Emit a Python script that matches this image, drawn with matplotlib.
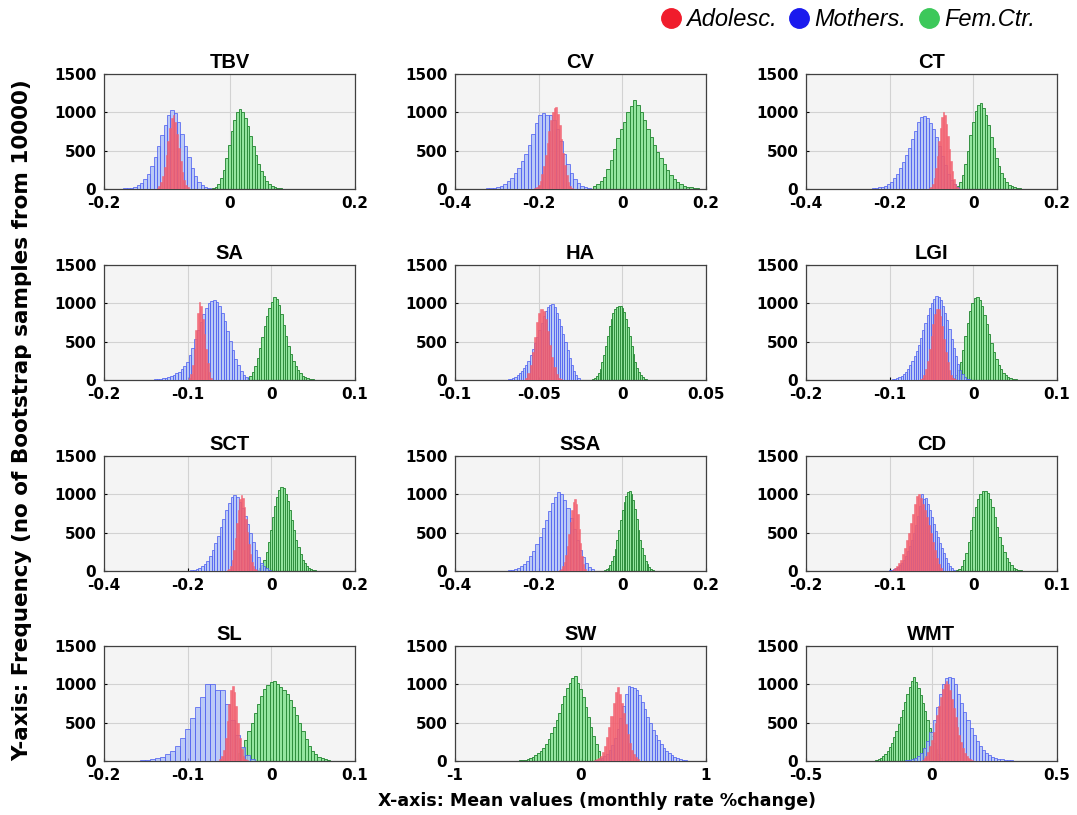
import numpy as np
import matplotlib
matplotlib.use('Agg')
import matplotlib.pyplot as plt
from matplotlib.lines import Line2D

# ---- data: bootstrap histograms (counts per bin) ----
# each group: (left edge, right edge) of the binned range + counts
panel_names = ['TBV', 'CV', 'CT', 'SA', 'HA', 'LGI', 'SCT', 'SSA', 'CD', 'SL', 'SW', 'WMT']
panel_xlim = [(-0.2, 0.2), (-0.4, 0.2), (-0.4, 0.2), (-0.2, 0.1), (-0.1, 0.05), (-0.2, 0.1),
              (-0.4, 0.2), (-0.4, 0.2), (-0.2, 0.1), (-0.2, 0.1), (-1, 1), (-0.5, 0.5)]
panel_xticks = [[-0.2, 0, 0.2], [-0.4, -0.2, 0, 0.2], [-0.4, -0.2, 0, 0.2], [-0.2, -0.1, 0, 0.1],
                [-0.1, -0.05, 0, 0.05], [-0.2, -0.1, 0, 0.1], [-0.4, -0.2, 0, 0.2], [-0.4, -0.2, 0, 0.2],
                [-0.2, -0.1, 0, 0.1], [-0.2, -0.1, 0, 0.1], [-1, 0, 1], [-0.5, 0, 0.5]]
yticks = [0, 500, 1000, 1500]

tbv_ado_rng = (-0.119, -0.062)
tbv_ado = [5, 15, 40, 90, 170, 290, 440, 620, 800, 930, 960, 880, 720, 540, 370, 220, 120, 55, 20, 6]
tbv_mot_rng = (-0.180, -0.030)
tbv_mot = [3, 5, 8, 12, 18, 30, 50, 80, 130, 200, 300, 420, 560, 700, 830, 960, 1030, 990, 880, 720,
           560, 420, 280, 170, 95, 50, 22, 8]
tbv_fem_rng = (-0.028, 0.100)
tbv_fem = [10, 30, 70, 140, 250, 400, 580, 760, 900, 1000, 1040, 1010, 930, 820, 690, 560, 440, 330,
           240, 165, 110, 70, 45, 28, 16, 10, 6, 4, 2, 1]

cv_ado_rng = (-0.210, -0.118)
cv_ado = [10, 25, 55, 110, 190, 300, 440, 600, 760, 900, 1000, 1060, 1070, 980, 830, 650, 470, 310,
          180, 90, 40, 15]
cv_mot_rng = (-0.360, -0.075)
cv_mot = [2, 3, 4, 6, 8, 12, 18, 28, 45, 70, 105, 150, 210, 280, 360, 460, 580, 720, 860, 960, 990,
          970, 960, 900, 780, 620, 460, 320, 210, 130, 75, 40, 20, 8]
cv_fem_rng = (-0.070, 0.200)
cv_fem = [40, 60, 100, 160, 260, 380, 520, 660, 780, 880, 1000, 1080, 1160, 1090, 1000, 900, 780, 680,
          580, 480, 400, 320, 250, 180, 130, 90, 65, 45, 30, 20, 12, 8, 5, 3]

ct_ado_rng = (-0.106, -0.034)
ct_ado = [10, 30, 70, 150, 270, 430, 620, 800, 940, 1000, 960, 850, 690, 520, 360, 230, 130, 65, 28, 10]
ct_mot_rng = (-0.257, -0.034)
ct_mot = [3, 5, 8, 12, 20, 30, 45, 65, 95, 140, 200, 270, 350, 440, 540, 650, 760, 870, 940, 950,
          920, 860, 780, 680, 560, 430, 310, 200, 120, 60, 25]
ct_fem_rng = (-0.046, 0.138)
ct_fem = [15, 40, 90, 180, 320, 500, 700, 880, 1020, 1100, 1120, 1060, 960, 830, 680, 540, 410, 300,
          210, 140, 90, 55, 35, 22, 14, 9, 6, 4, 2, 1]

sa_ado_rng = (-0.099, -0.071)
sa_ado = [20, 80, 200, 400, 650, 880, 1020, 960, 800, 600, 400, 220, 100, 30]
sa_mot_rng = (-0.150, -0.028)
sa_mot = [2, 3, 5, 7, 10, 14, 20, 28, 38, 50, 65, 85, 110, 140, 180, 240, 320, 420, 530, 650, 760,
          860, 940, 1000, 1030, 1040, 1020, 970, 880, 770, 640, 510, 390, 280, 190, 120, 70, 35]
sa_fem_rng = (-0.029, 0.059)
sa_fem = [20, 50, 100, 180, 290, 420, 560, 700, 830, 940, 1020, 1080, 1060, 980, 860, 720, 580, 450,
          340, 250, 180, 125, 85, 55, 35, 22, 14, 9, 6, 4, 2]

ha_ado_rng = (-0.058, -0.036)
ha_ado = [30, 90, 200, 360, 560, 760, 880, 920, 900, 800, 640, 460, 300, 170, 80, 30, 10]
ha_mot_rng = (-0.071, -0.0255)
ha_mot = [3, 6, 10, 18, 30, 45, 65, 90, 120, 160, 200, 250, 320, 400, 480, 560, 650, 740, 830, 900,
          950, 975, 985, 950, 880, 790, 700, 600, 500, 390, 290, 200, 120, 65, 25]
ha_fem_rng = (-0.018, 0.016)
ha_fem = [10, 25, 50, 90, 150, 230, 330, 450, 580, 700, 800, 880, 930, 950, 960, 960, 940, 890, 800,
          690, 570, 450, 340, 240, 160, 100, 60, 35, 18, 9, 4]

lgi_ado_rng = (-0.064, -0.021)
lgi_ado = [10, 30, 70, 140, 250, 400, 570, 730, 860, 930, 920, 840, 700, 530, 370, 230, 130, 65, 28, 10]
lgi_mot_rng = (-0.100, -0.0038)
lgi_mot = [5, 10, 18, 28, 40, 58, 80, 110, 145, 190, 250, 310, 380, 460, 550, 650, 750, 850, 940,
           1010, 1060, 1090, 1080, 1040, 970, 880, 780, 660, 540, 420, 310, 210, 130, 75, 40, 18, 7]
lgi_fem_rng = (-0.025, 0.063)
lgi_fem = [20, 60, 130, 240, 390, 570, 750, 900, 1010, 1070, 1080, 1040, 960, 850, 730, 600, 480, 370,
           280, 200, 140, 95, 62, 40, 25, 15, 9, 5, 3, 2, 1]

sct_ado_rng = (-0.106, -0.034)
sct_ado = [10, 30, 70, 150, 270, 430, 620, 800, 940, 990, 950, 840, 680, 510, 350, 220, 120, 60, 25, 8]
sct_mot_rng = (-0.200, 0.0048)
sct_mot = [5, 10, 18, 30, 45, 65, 90, 130, 190, 270, 360, 460, 570, 680, 790, 890, 960, 990, 960, 900,
           820, 720, 610, 500, 380, 270, 180, 110, 65, 35, 15, 6]
sct_fem_rng = (-0.034, 0.118)
sct_fem = [15, 40, 80, 150, 250, 380, 540, 700, 850, 970, 1060, 1100, 1080, 1010, 910, 790, 660, 530,
           410, 310, 220, 150, 100, 65, 40, 25, 15, 9, 5, 2]

ssa_ado_rng = (-0.151, -0.087)
ssa_ado = [8, 25, 60, 120, 210, 330, 480, 640, 790, 900, 940, 880, 740, 550, 360, 200, 90, 30]
ssa_mot_rng = (-0.289, -0.067)
ssa_mot = [3, 6, 10, 18, 28, 42, 62, 90, 130, 190, 260, 350, 450, 560, 670, 780, 890, 970, 1030, 1000,
           930, 820, 690, 550, 410, 280, 180, 100, 50, 20]
ssa_fem_rng = (-0.048, 0.079)
ssa_fem = [5, 12, 25, 45, 80, 130, 200, 290, 400, 530, 660, 790, 900, 980, 1030, 1040, 1000, 920, 810,
           680, 540, 410, 300, 205, 135, 85, 50, 28, 14, 6]

cd_ado_rng = (-0.100, -0.0376)
cd_ado = [5, 15, 35, 60, 100, 150, 220, 300, 400, 500, 620, 750, 880, 980, 1000, 950, 880, 800, 700,
          600, 490, 380, 270, 170, 90, 35]
cd_mot_rng = (-0.103, -0.0214)
cd_mot = [5, 10, 16, 25, 38, 55, 80, 110, 150, 200, 260, 330, 410, 500, 600, 720, 850, 1000, 940, 950,
          880, 790, 700, 610, 520, 440, 370, 300, 230, 170, 110, 65, 35, 15]
cd_fem_rng = (-0.021, 0.064)
cd_fem = [10, 30, 70, 140, 240, 380, 540, 700, 840, 940, 1000, 1040, 1050, 1020, 940, 830, 700, 570,
          450, 340, 250, 175, 115, 75, 45, 27, 15, 8, 4, 2]

sl_ado_rng = (-0.062, -0.028)
sl_ado = [20, 60, 150, 300, 520, 750, 920, 980, 900, 720, 500, 300, 160, 70, 25, 8]
sl_mot_rng = (-0.163, -0.019)
sl_mot = [5, 8, 14, 22, 35, 55, 85, 130, 200, 300, 420, 560, 700, 840, 1010, 1010, 930, 920, 750, 540,
          340, 180, 80, 30]
sl_fem_rng = (-0.040, 0.074)
sl_fem = [100, 170, 270, 390, 500, 620, 740, 850, 940, 990, 1030, 1050, 1000, 960, 920, 870, 790, 700,
          600, 500, 390, 290, 200, 130, 85, 55, 35, 20, 12, 6]

sw_ado_rng = (0.074, 0.470)
sw_ado = [3, 6, 12, 22, 40, 70, 120, 200, 310, 440, 590, 760, 900, 960, 880, 760, 620, 480, 350, 240,
          150, 90, 50, 20]
sw_mot_rng = (0.074, 0.891)
sw_mot = [3, 6, 12, 22, 38, 60, 95, 140, 210, 300, 420, 560, 720, 880, 980, 960, 950, 920, 860, 770,
          680, 580, 490, 410, 340, 280, 225, 175, 135, 100, 72, 50, 35, 24, 16, 10, 6, 3]
sw_fem_rng = (-0.535, 0.158)
sw_fem = [3, 5, 8, 12, 18, 26, 38, 55, 75, 100, 135, 175, 225, 290, 360, 440, 530, 630, 740, 850, 950,
          1020, 1080, 1110, 1020, 940, 830, 700, 580, 450, 330, 220, 130]

wmt_ado_rng = (-0.046, 0.173)
wmt_ado = [5, 15, 35, 70, 120, 190, 280, 380, 490, 600, 720, 840, 940, 1010, 1040, 1000, 920, 810, 690,
           570, 450, 340, 250, 170, 110, 70, 40, 22, 10, 4]
wmt_mot_rng = (-0.119, 0.373)
wmt_mot = [5, 10, 18, 28, 45, 70, 110, 170, 260, 380, 530, 700, 870, 1000, 1080, 1100, 1080, 1000, 880,
           760, 640, 530, 430, 340, 260, 200, 150, 110, 80, 58, 42, 30, 21, 15, 10, 7, 5, 3, 2, 1]
wmt_fem_rng = (-0.232, 0.041)
wmt_fem = [5, 12, 22, 38, 60, 90, 130, 180, 240, 310, 390, 480, 570, 670, 770, 870, 960, 1040, 1090,
           1030, 950, 860, 760, 650, 540, 430, 330, 240, 160, 95, 45]

adolesc = [(tbv_ado_rng, tbv_ado), (cv_ado_rng, cv_ado), (ct_ado_rng, ct_ado), (sa_ado_rng, sa_ado),
           (ha_ado_rng, ha_ado), (lgi_ado_rng, lgi_ado), (sct_ado_rng, sct_ado), (ssa_ado_rng, ssa_ado),
           (cd_ado_rng, cd_ado), (sl_ado_rng, sl_ado), (sw_ado_rng, sw_ado), (wmt_ado_rng, wmt_ado)]
mothers = [(tbv_mot_rng, tbv_mot), (cv_mot_rng, cv_mot), (ct_mot_rng, ct_mot), (sa_mot_rng, sa_mot),
           (ha_mot_rng, ha_mot), (lgi_mot_rng, lgi_mot), (sct_mot_rng, sct_mot), (ssa_mot_rng, ssa_mot),
           (cd_mot_rng, cd_mot), (sl_mot_rng, sl_mot), (sw_mot_rng, sw_mot), (wmt_mot_rng, wmt_mot)]
femctr = [(tbv_fem_rng, tbv_fem), (cv_fem_rng, cv_fem), (ct_fem_rng, ct_fem), (sa_fem_rng, sa_fem),
          (ha_fem_rng, ha_fem), (lgi_fem_rng, lgi_fem), (sct_fem_rng, sct_fem), (ssa_fem_rng, ssa_fem),
          (cd_fem_rng, cd_fem), (sl_fem_rng, sl_fem), (sw_fem_rng, sw_fem), (wmt_fem_rng, wmt_fem)]

# ---- styling ----
RED_FC, RED_EC = '#f25c6c', '#f25c6c'
BLUE_FC, BLUE_EC = '#a9bcf7', '#4a5cf0'
GREEN_FC, GREEN_EC = '#8fe59b', '#2c8c3a'

W, H = 1077, 815
col_left = [104, 455, 806]
col_w = 251
row_top = [74, 265, 456, 646]
row_h = 115


def draw_hist(ax, rng, counts, fc, ec, alpha, lw, z):
    edges = np.linspace(rng[0], rng[1], len(counts) + 1)
    ax.bar(edges[:-1], counts, width=np.diff(edges), align='edge', color=fc, alpha=alpha,
           edgecolor=ec, linewidth=lw, zorder=z)


fig = plt.figure(figsize=(W / 100, H / 100), dpi=100)

for i, name in enumerate(panel_names):
    r, c = divmod(i, 3)
    ax = fig.add_axes([col_left[c] / W, 1 - (row_top[r] + row_h) / H, col_w / W, row_h / H])
    ax.set_facecolor('#f4f4f4')
    draw_hist(ax, *femctr[i], GREEN_FC, GREEN_EC, 0.95, 0.7, 2)
    draw_hist(ax, *mothers[i], BLUE_FC, BLUE_EC, 0.75, 0.7, 3)
    draw_hist(ax, *adolesc[i], RED_FC, RED_EC, 0.85, 0.4, 4)
    ax.set_xlim(*panel_xlim[i])
    ax.set_ylim(0, 1500)
    ax.set_xticks(panel_xticks[i])
    ax.set_xticklabels(['%g' % t for t in panel_xticks[i]])
    ax.set_yticks(yticks)
    ax.grid(True, color='#d2d2d2', lw=0.8, zorder=0)
    ax.set_axisbelow(True)
    ax.tick_params(length=2, direction='in', labelsize=11)
    ax.tick_params(axis='x', pad=5)
    ax.tick_params(axis='y', pad=5.5)
    for lab in ax.get_xticklabels() + ax.get_yticklabels():
        lab.set_fontweight('bold')
    for s in ax.spines.values():
        s.set_color('#404040'); s.set_linewidth(0.9)
    ax.set_title(name, fontsize=14.5, fontweight='bold', family='Liberation Sans', pad=4)

fig.text(0.0204, 0.485, 'Y-axis: Frequency (no of Bootstrap samples from 10000)', rotation=90,
         ha='center', va='center', fontsize=15.5, fontweight='bold')
fig.text(0.554, 0.017, 'X-axis: Mean values (monthly rate %change)', ha='center', va='center',
         fontsize=12.5, fontweight='bold')

handles = [Line2D([], [], ls='', marker='o', ms=14, color=col, mec=col)
           for col in ('#f01c2c', '#1a1aee', '#3cc85a')]
fig.legend(handles, ['Adolesc.', 'Mothers.', 'Fem.Ctr.'], loc='upper right', bbox_to_anchor=(0.981, 1.016),
           ncol=3, frameon=False, handletextpad=0.15, columnspacing=0.45, handlelength=1.0,
           prop={'family': 'Liberation Sans', 'style': 'italic', 'size': 17})

fig.savefig('out.png', dpi=100, facecolor='white')
